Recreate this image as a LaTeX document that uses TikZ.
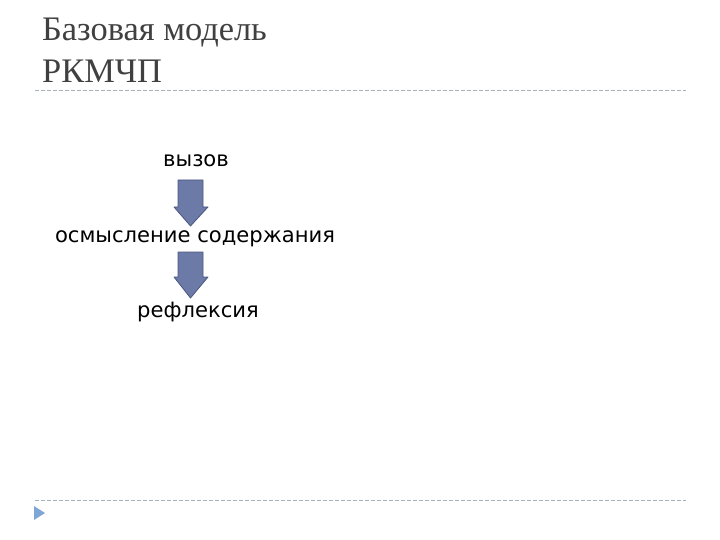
\documentclass[tikz,border=0pt]{standalone}
\usepackage{fontspec}
\setmainfont{Liberation Serif}
\newfontfamily\bodyfont{DejaVu Sans}
\definecolor{titlegray}{HTML}{404040}
\definecolor{arrowfill}{HTML}{6C7AA8}
\definecolor{arrowline}{HTML}{4A5680}
\definecolor{rulegray}{HTML}{A8B0BC}
\definecolor{bullet}{HTML}{7FA6D6}
\tikzset{
  titletext/.style={anchor=base west, inner sep=0pt, text=titlegray, font=\fontsize{34.4}{36}\selectfont},
  bodytext/.style={anchor=base, inner sep=0pt, text=black, font=\bodyfont\fontsize{21.1}{24}\selectfont},
  rulestyle/.style={draw=rulegray, dashed, line width=0.8pt, dash pattern=on 4pt off 2pt},
  blockarrow/.style={fill=arrowfill, draw=arrowline, line width=0.8pt, line join=round}
}
\begin{document}
\begin{tikzpicture}[x=1pt,y=-1pt]
\useasboundingbox (0,0) rectangle (720,540);
\node[titletext] (t1) at (42,41) {Базовая модель};
\node[titletext] (t2) at (42,83) {РКМЧП};
\draw[rulestyle] (35,90) -- (686,90);
\draw[rulestyle] (35,500) -- (686,500);
\fill[bullet] (34,506) -- (45,513) -- (34,520) -- cycle;
\node[bodytext] (a) at (196,167) {вызов};
\node[bodytext] (b) at (195,243) {осмысление содержания};
\node[bodytext] (c) at (198,317) {рефлексия};
\draw[blockarrow] (178,180) -- (203,180) -- (203,207) -- (208,207) -- (190.5,226) -- (174,207) -- (178,207) -- cycle;
\draw[blockarrow] (178,252) -- (203,252) -- (203,277) -- (208,277) -- (190.5,298) -- (174,277) -- (178,277) -- cycle;
\end{tikzpicture}
\end{document}
